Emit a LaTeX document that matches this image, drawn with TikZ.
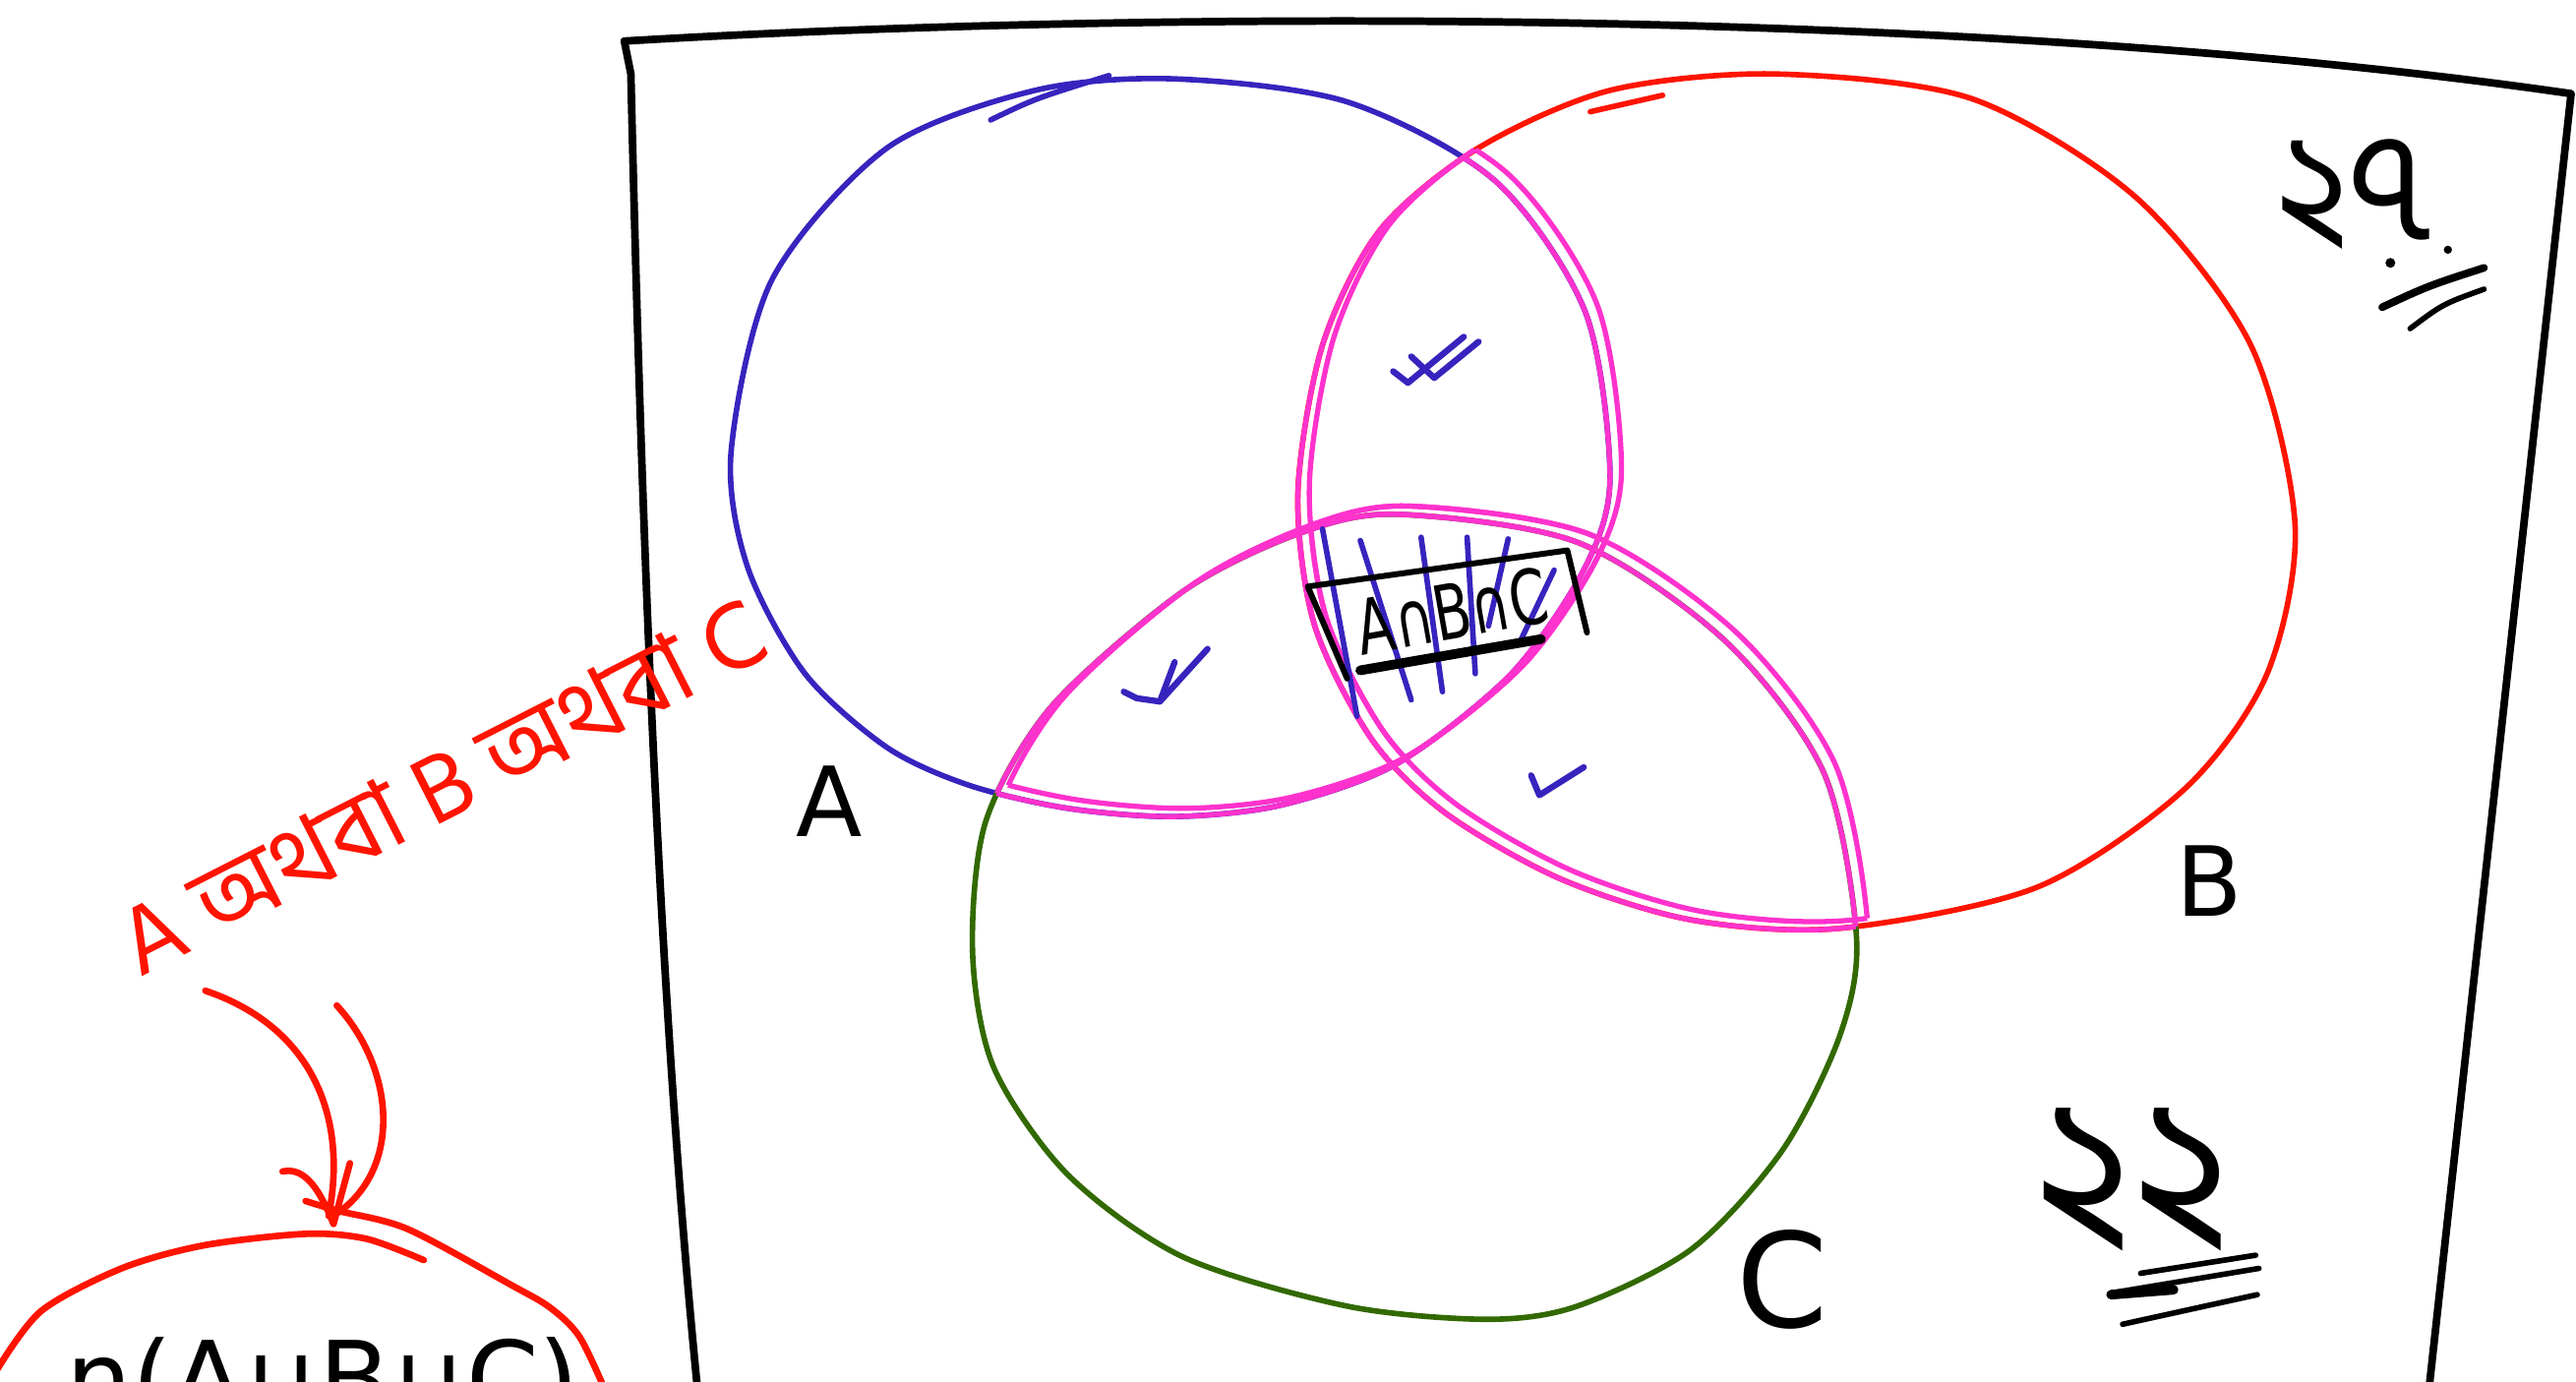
\documentclass[tikz,border=0pt]{standalone}
\usepackage{fontspec}
\newfontfamily\bnfont[Script=Bengali]{Hind Siliguri}
\newfontfamily\handfont{DejaVu Sans}
\usetikzlibrary{positioning}

\definecolor{penblue}{RGB}{55,36,190}
\definecolor{penred}{RGB}{255,20,0}
\definecolor{pengreen}{RGB}{50,105,0}
\definecolor{penpink}{RGB}{255,50,205}

\def\setA{plot[smooth cycle] coordinates {(445,275) (470,170) (540,90) (630,55) (715,48) (820,62) (910,110) (965,190) (980,290) (965,345) (920,410) (850,465) (780,490) (715,497) (650,492) (590,478) (540,455) (490,410) (455,345)}}
\def\setB{plot[smooth cycle] coordinates {(1080,45) (1200,60) (1300,120) (1370,210) (1397,320) (1380,410) (1330,480) (1240,540) (1120,565) (1030,560) (950,535) (880,495) (835,450) (800,380) (790,300) (805,210) (840,140) (900,90) (980,55)}}
\def\setC{plot[smooth cycle] coordinates {(850,313) (960,330) (1050,390) (1110,470) (1130,570) (1120,630) (1085,700) (1030,760) (960,795) (905,803) (820,795) (720,765) (650,715) (605,650) (592,580) (600,500) (640,430) (720,360) (790,325)}}

\begin{document}
\begin{tikzpicture}[
    x=0.016703cm, y=-0.016703cm,
    pen/.style={line width=1.6pt, line cap=round, line join=round},
    border/.style={pen, line width=2.2pt, black},
    lens/.style={pen, penpink, line width=1.5pt},
    hatch/.style={pen, penblue},
    tickmark/.style={pen, penblue, line width=1.8pt},
    redpen/.style={pen, penred, line width=1.9pt},
    setname/.style={font=\handfont\fontsize{28}{30}\selectfont, inner sep=0pt},
    digits/.style={font=\bnfont\fontsize{58}{60}\selectfont, inner sep=0pt}
]
    \useasboundingbox (0,0) rectangle (1568,841);
    \fill[white] (0,0) rectangle (1568,841);

    % universal set
    \draw[border] (380,25) .. controls (700,6) and (1200,4) .. (1565,57) -- (1478,850);
    \draw[border] (380,25) -- (384,45) .. controls (390,300) and (400,600) .. (425,850);

    % the three sets
    \draw[pen, penblue] \setA;
    \draw[pen, penred] \setB;
    \draw[pen, pengreen] \setC;
    \draw[pen, penblue] (603,73) .. controls (630,60) .. (675,46);
    \draw[pen, penred] (968,68) -- (1012,58);

    % pairwise overlaps
    \foreach \dx/\dy in {0/0, 7/-5} {
        \begin{scope}[shift={(\dx,\dy)}]
            \begin{scope} \clip \setC; \draw[lens] \setA; \end{scope}
            \begin{scope} \clip \setA; \draw[lens] \setC; \end{scope}
            \begin{scope} \clip \setB; \draw[lens] \setA; \end{scope}
            \begin{scope} \clip \setA; \draw[lens] \setB; \end{scope}
            \begin{scope} \clip \setB; \draw[lens] \setC; \end{scope}
            \begin{scope} \clip \setC; \draw[lens] \setB; \end{scope}
        \end{scope}
    }

    \foreach \ax/\ay/\bx/\by in {805/322/826/436, 828/329/859/426, 865/327/878/421,
        893/327/898/410, 918/328/906/381, 946/347/926/389}
        \draw[hatch] (\ax,\ay) -- (\bx,\by);

    \draw[pen, line width=1.7pt] (820,413) -- (796,357) -- (954,335) -- (966,385);
    \draw[pen, line width=2.8pt] (828,408) -- (938,389);
    \node[setname, font=\handfont\fontsize{22}{24}\selectfont, rotate=10, xscale=0.72] (abc) at (884,372) {A∩B∩C};

    % ticks
    \draw[tickmark] (848,226) -- (857,233) -- (891,205);
    \draw[tickmark] (859,217) -- (873,230) -- (900,208);
    \draw[tickmark] (684,421) -- (692,425) -- (706,427) -- (735,395);
    \draw[tickmark] (715,403) -- (706,427);
    \draw[tickmark] (932,472) -- (937,484) -- (964,467);

    \node[setname] (A) at (505,488) {A};
    \node[setname] (B) at (1345,536) {B};
    \node[setname, font=\handfont\fontsize{38}{40}\selectfont] (C) at (1085,779) {C};

    % counts
    \node[digits, font=\bnfont\fontsize{44}{46}\selectfont] (top) at (1433,118) {২৭};
    \fill (1455,160) circle (3);
    \fill (1490,152) circle (2.5);
    \draw[pen, line width=2.2pt] (1450,187) .. controls (1478,174) .. (1512,163);
    \draw[pen] (1467,200) .. controls (1487,185) .. (1512,176);

    \node[digits] (outside) at (1298,718) {২২};
    \draw[pen] (1303,775) -- (1373,764);
    \draw[pen] (1285,787) -- (1375,772);
    \draw[pen, line width=2.8pt] (1285,788) -- (1323,785);
    \draw[pen] (1292,806) -- (1374,788);

    % union
    \node[font=\bnfont\fontsize{28}{30}\selectfont, text=penred, rotate=27, inner sep=0pt] (either) at (268,478) {A অথবা B অথবা C};
    \coordinate (s1) at (125,603);
    \coordinate (s2) at (205,612);
    \coordinate (tip) at (203,745);
    \draw[redpen] (s1) .. controls (190,625) and (212,680) .. (200,740);
    \draw[redpen] (s2) .. controls (240,650) and (245,710) .. (206,738);
    \draw[redpen] (172,713) .. controls (186,710) and (195,725) .. (tip) -- (213,708);
    \draw[redpen] plot[smooth] coordinates {(-2,834) (25,798) (74,772) (124,758) (186,751) (223,754) (258,767)};
    \draw[redpen] plot[smooth] coordinates {(186,731) (206,737) (248,748) (311,782) (335,796) (353,814) (370,850)};
    \node[setname, font=\handfont\fontsize{30}{32}\selectfont, anchor=base west] (union) at (40,862) {n(A∪B∪C)};
\end{tikzpicture}
\end{document}
